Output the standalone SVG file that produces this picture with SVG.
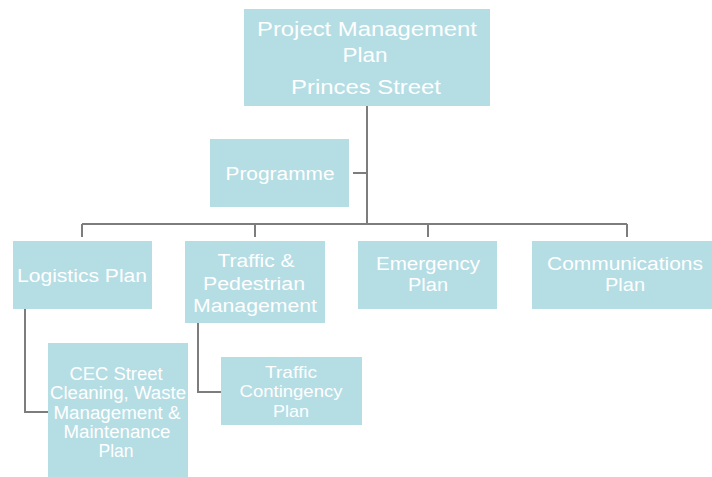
<svg xmlns="http://www.w3.org/2000/svg" width="712" height="477" viewBox="0 0 712 477">
<style>
.box{fill:#b5dde4;}
.t{fill:#ffffff;font-family:"Liberation Sans",Arial,sans-serif;font-size:18px;text-anchor:middle;}
.big{font-size:20px;}
.c{fill:none;stroke:#7d7d7d;stroke-width:2;}
</style>
<rect width="712" height="477" fill="#ffffff"/>
<g id="connectors">
<path class="c" d="M367,106 V224"/>
<path class="c" d="M353,173 H367"/>
<path class="c" d="M82,224 H627"/>
<path class="c" d="M82,224 V237 M255,224 V237 M428,224 V237 M627,224 V237"/>
<path class="c" d="M25,309 V412 H48"/>
<path class="c" d="M198,323 V392 H221"/>
</g>
<g id="project-management-plan">
<rect class="box" x="244" y="9" width="246" height="97"/>
<text class="t big" x="367" y="36" textLength="220" lengthAdjust="spacingAndGlyphs">Project Management</text>
<text class="t big" x="365" y="62" textLength="45" lengthAdjust="spacingAndGlyphs">Plan</text>
<text class="t big" x="366" y="94" textLength="150" lengthAdjust="spacingAndGlyphs">Princes Street</text>
</g>
<g id="programme">
<rect class="box" x="210" y="139" width="139" height="68"/>
<text class="t" x="280" y="180" textLength="109" lengthAdjust="spacingAndGlyphs">Programme</text>
</g>
<g id="logistics-plan">
<rect class="box" x="13" y="241" width="139" height="68"/>
<text class="t" x="82" y="282" textLength="130" lengthAdjust="spacingAndGlyphs">Logistics Plan</text>
</g>
<g id="traffic-pedestrian">
<rect class="box" x="185" y="241" width="140" height="82"/>
<text class="t" x="256" y="267" textLength="77" lengthAdjust="spacingAndGlyphs">Traffic &amp;</text>
<text class="t" x="254" y="290" textLength="102" lengthAdjust="spacingAndGlyphs">Pedestrian</text>
<text class="t" x="255" y="312" textLength="124" lengthAdjust="spacingAndGlyphs">Management</text>
</g>
<g id="emergency-plan">
<rect class="box" x="358" y="241" width="139" height="68"/>
<text class="t" x="428" y="270" textLength="104" lengthAdjust="spacingAndGlyphs">Emergency</text>
<text class="t" x="428" y="291" textLength="40" lengthAdjust="spacingAndGlyphs">Plan</text>
</g>
<g id="communications-plan">
<rect class="box" x="532" y="241" width="180" height="68"/>
<text class="t" x="625" y="270" textLength="156" lengthAdjust="spacingAndGlyphs">Communications</text>
<text class="t" x="625" y="291" textLength="40" lengthAdjust="spacingAndGlyphs">Plan</text>
</g>
<g id="cec-street-cleaning">
<rect class="box" x="48" y="343" width="140" height="134"/>
<g style="font-size:17px">
<text class="t" x="116" y="380" textLength="93" lengthAdjust="spacingAndGlyphs">CEC Street</text>
<text class="t" x="118" y="399" textLength="136" lengthAdjust="spacingAndGlyphs">Cleaning, Waste</text>
<text class="t" x="117" y="419" textLength="127" lengthAdjust="spacingAndGlyphs">Management &amp;</text>
<text class="t" x="117" y="438" textLength="107" lengthAdjust="spacingAndGlyphs">Maintenance</text>
<text class="t" x="116" y="457" textLength="35" lengthAdjust="spacingAndGlyphs">Plan</text>
</g>
</g>
<g id="traffic-contingency-plan">
<rect class="box" x="221" y="357" width="141" height="68"/>
<text class="t" x="291" y="378" textLength="52" lengthAdjust="spacingAndGlyphs" style="font-size:17px">Traffic</text>
<text class="t" x="291" y="397" textLength="103" lengthAdjust="spacingAndGlyphs" style="font-size:17px">Contingency</text>
<text class="t" x="291" y="417" textLength="36" lengthAdjust="spacingAndGlyphs" style="font-size:17px">Plan</text>
</g>
</svg>
